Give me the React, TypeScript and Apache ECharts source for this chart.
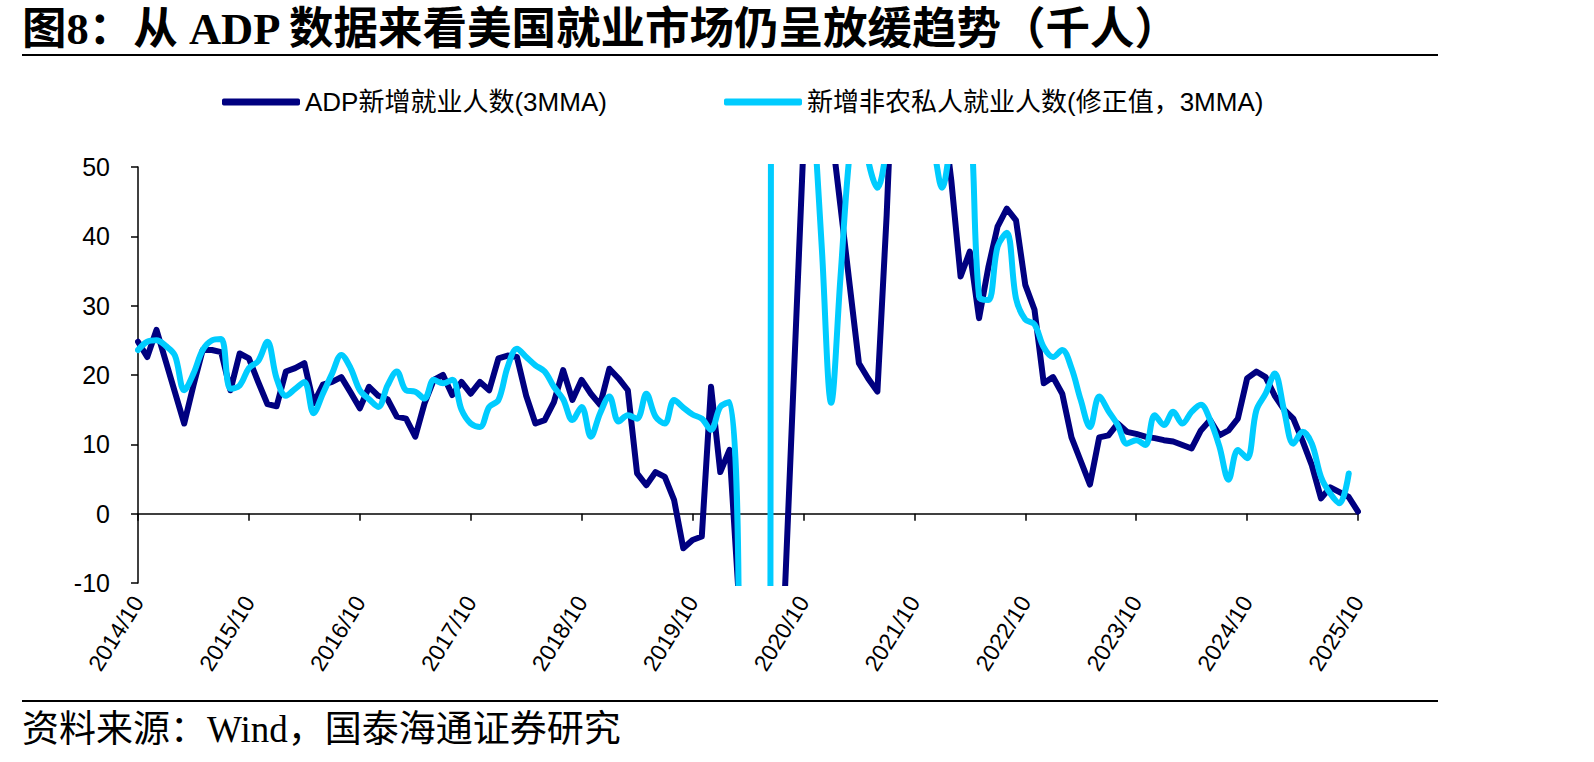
import React, { useEffect, useRef } from 'react';
import * as echarts from 'echarts';

// ---------- categories (monthly, 2014/10 .. 2025/10) ----------
const START_YEAR = 2014;
const START_MONTH = 10;
const MONTH_COUNT = 133;
const months: string[] = [];
for (let i = 0; i < MONTH_COUNT; i++) {
  const t = START_MONTH - 1 + i;
  months.push(`${START_YEAR + Math.floor(t / 12)}/${(t % 12) + 1}`);
}

// ---------- series values ----------
const adpNames = 'ADP新增就业人数(3MMA)';
const nfpNames = '新增非农私人就业人数(修正值，3MMA)';

const adp3mma: number[] = [
  24.8, 22.6, 26.5, 22, 17.5, 13, 18.5, 23.6, 23.6, 23.3,
  17.8, 23.1, 22.4, 19, 15.8, 15.5, 20.5, 21, 21.7, 15.9,
  18.6, 19, 19.7, 17.5, 15.2, 18.3, 17, 16.5, 14, 13.7,
  11.1, 15.9, 19.3, 20, 17.1, 19, 17.3, 19, 17.8, 22.4,
  22.8, 22.6, 17, 13, 13.5, 16.1, 20.7, 16.4, 19.3, 17.3,
  15.7, 20.9, 19.5, 17.8, 5.8, 4.1, 6, 5.3, 2, -5,
  -3.8, -3.3, 18.3, 6, 9.2, -12, -620, -700, -480, -120,
  -11, 21, 53, 62, 60, 55.6, 44.4, 33, 21.7, 19.5,
  17.6, 43, 75, 70, 66, 68, 62, 59, 48, 34.2,
  37.8, 28.2, 35.5, 41.4, 44, 42.3, 33, 29.4, 18.8, 19.7,
  17.3, 11, 7.6, 4.2, 11, 11.3, 13, 11.8, 11.5, 11.1,
  10.9, 10.6, 10.4, 9.9, 9.4, 12, 13.5, 11.3, 12, 13.7,
  19.5, 20.5, 19.7, 17, 15, 13.7, 10.5, 7, 2.2, 3.8,
  3.1, 2.4, 0.3,
];

const nfpPrivate3mma: (number | null)[] = [
  23.6, 24.8, 25, 24.2, 22.8, 17.8, 20.2, 23.6, 25, 25.2,
  18, 18.5, 21, 22, 24.8, 19.5, 17, 18, 19, 14.5,
  17.3, 20.2, 22.9, 21, 17.8, 16.5, 15.4, 18.5, 20.5, 17.8,
  17.6, 16.6, 19.3, 18.8, 19.3, 15, 13, 12.5, 15.4, 16.4,
  21.2, 23.8, 22.6, 21.4, 20.5, 18.3, 16.5, 13.5, 15.4, 11.1,
  14.5, 16.9, 13.3, 14.2, 13.7, 17.3, 14, 13, 16.4, 15.3,
  14.3, 13.7, 12.1, 15.4, 16.1, -15, -550, -650, -380, 280,
  150, 100, 80, 60, 38, 16, 34, 52, 60, 51,
  47, 53, 65, 60, 58, 56, 53, 47, 54, 60,
  58, 31.3, 30.8, 38.5, 40.5, 31, 28, 27.3, 24, 22.6,
  23.6, 21, 16.4, 12.5, 16.9, 14.8, 12.8, 10.1, 10.6, 9.9,
  14.2, 12.8, 14.7, 13, 14.7, 15.7, 13.5, 9.7, 4.9, 9.2,
  8, 14.9, 17.3, 20.2, 14.9, 10.1, 11.8, 10.1, 5.3, 2.9,
  1.5, 5.8, null,
];

const Y_MIN = -10;
const Y_MAX = 50;
const Y_STEP = 10;

const TITLE = '图8：从 ADP 数据来看美国就业市场仍呈放缓趋势（千人）';
const SOURCE = '资料来源：Wind，国泰海通证券研究';

const SANS = '"Liberation Sans", Arial, "Noto Sans CJK SC", sans-serif';
const SERIF = '"Liberation Serif", "Times New Roman", "Noto Sans CJK SC", serif';

export default function App() {
  const ref = useRef<HTMLDivElement>(null);

  useEffect(() => {
    if (!ref.current) return;
    const chart = echarts.init(ref.current, undefined, { renderer: 'svg' });
    const axisLineStyle = { color: '#000', width: 1.5 };
    const legendText = { fontSize: 26, color: '#000', fontFamily: SANS };
    const option: any = {
      animation: false,
      backgroundColor: '#fff',
      textStyle: { fontFamily: SANS },
      grid: { left: 138, right: 236, top: 167, bottom: 179, containLabel: false },
      legend: [
        {
          left: 222, top: 89, padding: 0, icon: 'roundRect', itemWidth: 78, itemHeight: 7,
          data: [adpNames], textStyle: legendText,
        },
        {
          left: 724, top: 89, padding: 0, icon: 'roundRect', itemWidth: 78, itemHeight: 7,
          data: [nfpNames], textStyle: legendText,
        },
      ],
      xAxis: [
        {
          type: 'category', data: months, boundaryGap: false,
          axisLine: { show: true, onZero: true, lineStyle: axisLineStyle },
          axisTick: { show: true, interval: 11, length: 7, lineStyle: axisLineStyle },
          axisLabel: { show: false },
          splitLine: { show: false },
        },
        {
          type: 'category', data: months, boundaryGap: false, position: 'bottom',
          axisLine: { show: false, onZero: false },
          axisTick: { show: false },
          axisLabel: { interval: 11, rotate: 58, fontSize: 23, color: '#000', margin: 15, fontFamily: SANS },
          splitLine: { show: false },
        },
      ],
      yAxis: {
        type: 'value', min: Y_MIN, max: Y_MAX, interval: Y_STEP,
        axisLine: { show: true, lineStyle: axisLineStyle },
        axisTick: { show: true, length: 7, lineStyle: axisLineStyle },
        axisLabel: { fontSize: 25, color: '#000', margin: 28, fontFamily: SANS },
        splitLine: { show: false },
      },
      series: [
        {
          name: adpNames, type: 'line', data: adp3mma, xAxisIndex: 0,
          symbol: 'none', smooth: false, clip: true, color: '#000080',
          lineStyle: { color: '#000080', width: 6, join: 'round', cap: 'round' },
        },
        {
          name: nfpNames, type: 'line', data: nfpPrivate3mma, xAxisIndex: 0,
          symbol: 'none', smooth: 0.35, clip: true, color: '#00CCFF',
          lineStyle: { color: '#00CCFF', width: 6, join: 'round', cap: 'round' },
        },
      ],
      graphic: [
        {
          type: 'text', x: 22, y: 29,
          style: { text: TITLE, fontSize: 44.5, fontWeight: 'bold', fontFamily: SERIF, fill: '#000', verticalAlign: 'middle' },
        },
        { type: 'line', shape: { x1: 22, y1: 55, x2: 1438, y2: 55 }, style: { stroke: '#000', lineWidth: 2 } },
        { type: 'line', shape: { x1: 22, y1: 701, x2: 1438, y2: 701 }, style: { stroke: '#000', lineWidth: 2 } },
        {
          type: 'text', x: 22, y: 729,
          style: { text: SOURCE, fontSize: 37, fontFamily: SERIF, fill: '#000', verticalAlign: 'middle' },
        },
      ],
    };
    chart.setOption(option);
    return () => chart.dispose();
  }, []);

  return (
    <div
      ref={ref}
      style={{ position: 'fixed', left: 0, top: 0, width: 1594, height: 762, background: '#fff' }}
    />
  );
}
